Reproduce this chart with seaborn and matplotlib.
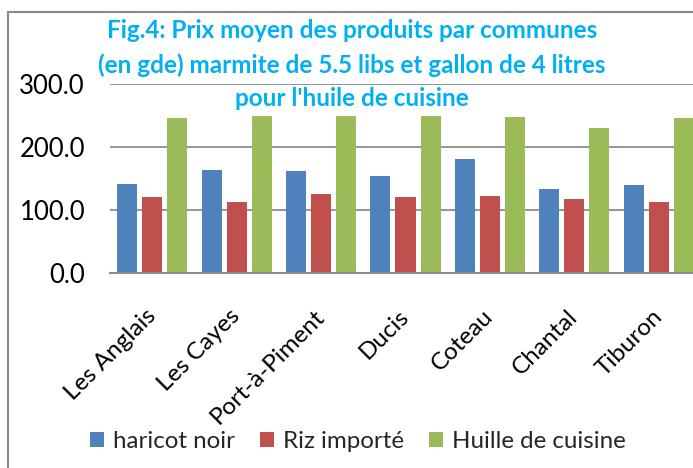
import matplotlib
matplotlib.use("Agg")
import matplotlib.pyplot as plt
import seaborn as sns
import pandas as pd
from matplotlib.patches import Rectangle, Patch

# ---- data ----
communes = ["Les Anglais", "Les Cayes", "Port-à-Piment", "Ducis", "Coteau", "Chantal", "Tiburon"]
haricot_noir = [141, 163, 162, 154, 181, 134, 139]
riz_importe = [120, 113, 126, 120, 122, 118, 113]
huile_cuisine = [246, 250, 250, 250, 248, 230, 246]
series_names = ["haricot noir", "Riz importé", "Huille de cuisine"]
yticks = [0, 100, 200, 300]
ytick_labels = ["0.0", "100.0", "200.0", "300.0"]
title_lines = [
    "Fig.4: Prix moyen des produits par communes",
    "(en gde) marmite de 5.5 libs et gallon de 4 litres",
    "pour l'huile de cuisine",
]

colors = ["#4F81BD", "#C0504D", "#9BBB59"]

rows = []
for name, vals in zip(series_names, [haricot_noir, riz_importe, huile_cuisine]):
    for c, v in zip(communes, vals):
        rows.append({"commune": c, "prix": v, "produit": name})
df = pd.DataFrame(rows)

sns.set_theme(style="white")
plt.rcParams["font.family"] = ["Lato", "DejaVu Sans"]

W, H = 693, 468
fig = plt.figure(figsize=(W / 100, H / 100), dpi=100)
ax = fig.add_axes([110 / W, (H - 272.7) / H, 591 / W, 188.4 / H])

sns.barplot(data=df, x="commune", y="prix", hue="produit", order=communes,
            hue_order=series_names, palette=colors, saturation=1, width=0.889,
            legend=False, ax=ax, edgecolor="none")

for p in ax.patches:
    w = p.get_width()
    nw = w * 0.8
    p.set_x(p.get_x() + (w - nw) / 2)
    p.set_width(nw)

ax.set_ylim(0, 300)
ax.set_xlim(-0.5, len(communes) - 0.5)
ax.set_yticks(yticks)
ax.set_yticklabels(ytick_labels, fontsize=18.5, color="black")
ax.set_xlabel("")
ax.set_ylabel("")
ax.yaxis.grid(True, color="#8c8c8c", linewidth=1.3)
ax.set_axisbelow(True)
for s in ["top", "right", "left"]:
    ax.spines[s].set_visible(False)
ax.spines["bottom"].set_color("#8c8c8c")
ax.spines["bottom"].set_linewidth(1.5)
ax.tick_params(axis="y", length=0, pad=18)
ax.tick_params(axis="x", length=0, pad=29)
ax.set_xticks(range(len(communes)))
ax.set_xticklabels(communes, rotation=45, ha="right", va="center",
                   rotation_mode="anchor", fontsize=17.5, color="black")

ys = [30, 65, 98]
for line, y in zip(title_lines, ys):
    fig.text(352 / W, 1 - y / H, line, ha="center", va="center", fontsize=17.5,
             fontweight="bold", color="#00B0F0")

handles = [Patch(facecolor=c, edgecolor="none", label=s) for c, s in zip(colors, series_names)]
fig.legend(handles=handles, loc="center", bbox_to_anchor=(358 / W, 1 - 442 / H), ncol=3,
           frameon=False, fontsize=17.4, handlelength=0.58, handleheight=0.58,
           handletextpad=0.37, columnspacing=1.03)

fig.patches.append(Rectangle((8 / W, -0.1), 1.2, 1.1 - 12 / H, transform=fig.transFigure,
                             fill=False, edgecolor="#8a8a8a", linewidth=1.5))

fig.savefig("out.png", dpi=100)
